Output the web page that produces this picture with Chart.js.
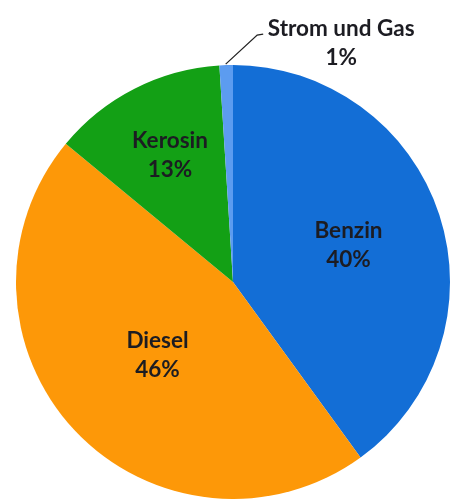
<!DOCTYPE html>
<html>
<head>
<meta charset="utf-8">
<script src="https://cdn.jsdelivr.net/npm/chart.js@4"></script>
<style>
  html, body { margin: 0; padding: 0; background: #ffffff; }
  #wrap { width: 452px; height: 499px; position: relative; }
</style>
</head>
<body>
<div id="wrap"><canvas id="c" width="452" height="499"></canvas></div>
<script>
const categories = ["Benzin", "Diesel", "Kerosin", "Strom und Gas"];
const shares = [40, 46, 13, 1];
const percentLabels = ["40%", "46%", "13%", "1%"];

const colors = ["#136ed6", "#fd9808", "#13a015", "#5c9cf0"];
const labelRadius = [0.55, 0.49, 0.66, null];

const labelPlugin = {
  id: 'sliceLabels',
  afterDatasetsDraw(chart) {
    const ctx = chart.ctx;
    const meta = chart.getDatasetMeta(0);
    ctx.save();
    ctx.font = 'bold 22.5px Lato, "Open Sans", sans-serif';
    ctx.fillStyle = '#1c1c22';
    ctx.textAlign = 'center';
    ctx.textBaseline = 'middle';
    meta.data.forEach((arc, i) => {
      const p = arc.getProps(['x', 'y', 'startAngle', 'endAngle', 'outerRadius'], true);
      const mid = (p.startAngle + p.endAngle) / 2;
      if (labelRadius[i] !== null) {
        const r = p.outerRadius * labelRadius[i];
        const x = p.x + Math.cos(mid) * r;
        const y = p.y + Math.sin(mid) * r;
        ctx.fillText(categories[i], x + 2, y - 14);
        ctx.fillText(percentLabels[i], x + 2, y + 15);
      } else {
        const ex = p.x + Math.cos(mid) * p.outerRadius;
        const ey = p.y + Math.sin(mid) * p.outerRadius;
        const kx = ex + 31, ky = ey - 30;
        ctx.strokeStyle = '#222';
        ctx.lineWidth = 1.3;
        ctx.beginPath();
        ctx.moveTo(ex - 0.5, ey - 1);
        ctx.lineTo(kx, ky);
        ctx.lineTo(kx + 6, ky - 1);
        ctx.stroke();
        const tx = kx + 84;
        ctx.fillText(categories[i], tx, ky - 6);
        ctx.fillText(percentLabels[i], tx, ky + 23);
      }
    });
    ctx.restore();
  }
};

new Chart(document.getElementById('c'), {
  type: 'pie',
  data: {
    labels: categories,
    datasets: [{
      data: shares,
      backgroundColor: colors,
      borderWidth: 0
    }]
  },
  options: {
    responsive: false,
    animation: false,
    rotation: 0,
    layout: { padding: { left: 16, right: 2, top: 65, bottom: 0 } },
    plugins: {
      legend: { display: false },
      tooltip: { enabled: false }
    }
  },
  plugins: [labelPlugin]
});
</script>
</body>
</html>
